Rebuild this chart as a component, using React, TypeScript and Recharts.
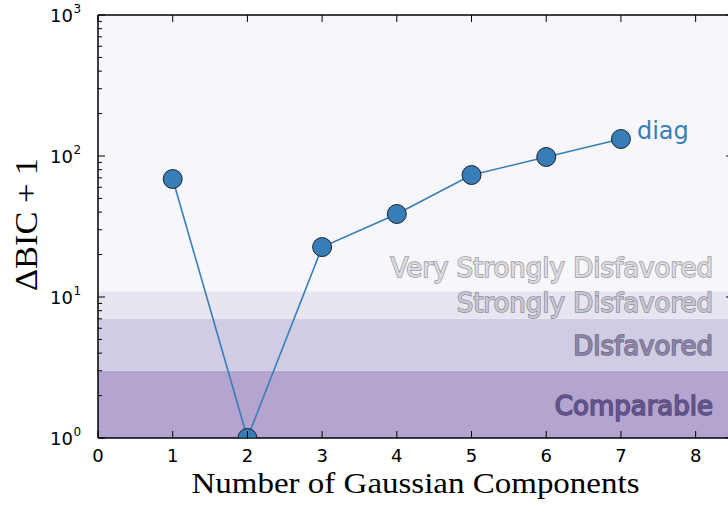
import React from 'react';
import * as Recharts from 'recharts';
import {
  LineChart, Line, XAxis, YAxis, ReferenceArea, ReferenceLine, LabelList,
} from 'recharts';

const components = [1, 2, 3, 4, 5, 6, 7];
const deltaBic = [68.7, 1, 22.6, 38.8, 73.3, 98.4, 132];
const seriesName = 'diag';

const xTicks = [0, 1, 2, 3, 4, 5, 6, 7, 8];
const yMajor = [1, 10, 100, 1000];
const yMinor = [2, 3, 4, 5, 6, 7, 8, 9, 20, 30, 40, 50, 60, 70, 80, 90, 200, 300, 400, 500, 600, 700, 800, 900];
const yExponents = ['0', '1', '2', '3'];
const yDomain = [1, 1000];

const bandEdges = [1, 3, 7, 11, 1000];
const bandNames = ['Comparable', 'Disfavored', 'Strongly Disfavored', 'Very Strongly Disfavored'];
const bandLabelY = [1.69, 4.5, 9.0, 16.0];

const bandFills = ['#b3a5cf', '#cfcce3', '#e7e5f0', '#f7f6fb'];
const bandTextFill = ['#64558a', '#8d86a6', '#c9c7d4', '#dcdce0'];
const bandTextStroke = ['#54477a', '#6e6888', '#8e8c98', '#9a9a9e'];

const data = components.map((c, i) => ({ n: c, v: deltaBic[i] }));
const yTicks = [...yMajor, ...yMinor].sort((a, b) => a - b);

const SANS = 'DejaVu Sans, sans-serif';
const SERIF = 'Liberation Serif, serif';

const LeftYTick = (props: any) => {
  const { x, y, payload } = props;
  const v = payload.value;
  const mi = yMajor.indexOf(v);
  if (mi >= 0) {
    return (
      <g>
        <line x1={x} x2={x + 7} y1={y} y2={y} stroke="#000" strokeWidth={1} />
        <text x={x - 25} y={y + 7} textAnchor="end" fontFamily={SANS} fontSize={18} fill="#000">10</text>
        <text x={x - 24.5} y={y - 2} textAnchor="start" fontFamily={SANS} fontSize={12} fill="#000">{yExponents[mi]}</text>
      </g>
    );
  }
  return <line x1={x} x2={x + 4} y1={y} y2={y} stroke="#000" strokeWidth={1} />;
};

const RightYTick = (props: any) => {
  const { x, y, payload } = props;
  const major = yMajor.includes(payload.value);
  return <line x1={x} x2={x - (major ? 7 : 4)} y1={y} y2={y} stroke="#000" strokeWidth={1} />;
};

const BottomXTick = (props: any) => {
  const { x, y, payload } = props;
  return (
    <g>
      <line x1={x} x2={x} y1={y} y2={y - 7} stroke="#000" strokeWidth={1} />
      <text x={x} y={y + 24} textAnchor="middle" fontFamily={SANS} fontSize={18} fill="#000">{payload.value}</text>
    </g>
  );
};

const TopXTick = (props: any) => {
  const { x, y } = props;
  return <line x1={x} x2={x} y1={y} y2={y + 7} stroke="#000" strokeWidth={1} />;
};

const makeBandLabel = (i: number) => (props: any) => {
  const vb = props.viewBox || {};
  const x = (vb.x ?? 0) + (vb.width ?? 0) - 20;
  const y = vb.y ?? 0;
  return (
    <text
      x={x}
      y={y}
      dy={9}
      textAnchor="end"
      fontFamily={SANS}
      fontSize={26}
      fill={bandTextFill[i]}
      stroke={bandTextStroke[i]}
      strokeWidth={1.5}
      paintOrder="stroke"
    >
      {bandNames[i]}
    </text>
  );
};

const XLabel = (props: any) => {
  const vb = props.viewBox || {};
  return (
    <text
      x={vb.x + vb.width / 2}
      y={vb.y + 55}
      textAnchor="middle"
      fontFamily={SERIF}
      fontSize={30}
      fill="#000"
      textLength={448}
      lengthAdjust="spacingAndGlyphs"
    >
      Number of Gaussian Components
    </text>
  );
};

const YLabel = (props: any) => {
  const vb = props.viewBox || {};
  const cx = 37;
  const cy = vb.y + vb.height / 2 - 2;
  return (
    <text
      x={cx}
      y={cy}
      transform={`rotate(-90 ${cx} ${cy})`}
      textAnchor="middle"
      fontFamily={SERIF}
      fontSize={31}
      fill="#000"
      textLength={133}
      lengthAdjust="spacingAndGlyphs"
    >
      ΔBIC + 1
    </text>
  );
};

const SeriesLabel = (props: any) => {
  const { x, y, index } = props;
  if (index !== components.length - 1) return null;
  return (
    <text x={x + 16} y={y} fontFamily={SANS} fontSize={24} fill="#377eb8">{seriesName}</text>
  );
};

// Dots are clipped at the axis frame (like matplotlib's clip_on): a dot whose
// value sits on the bottom of the y domain only shows its upper half.
const ClippedDot = (props: any) => {
  const { cx, cy, value } = props;
  if (cx == null || cy == null) return null;
  const r = 9.5;
  const style = { fill: '#377eb8', stroke: '#111', strokeWidth: 0.9 };
  const v = Array.isArray(value) ? value[1] : value;
  if (v != null && v <= yDomain[0]) {
    return <path d={`M ${cx - r} ${cy} A ${r} ${r} 0 0 1 ${cx + r} ${cy} Z`} {...style} />;
  }
  return <circle cx={cx} cy={cy} r={r} {...style} />;
};

export default function App() {
  return (
    <div style={{ position: 'absolute', left: 0, top: 0, width: 728, height: 508, overflow: 'hidden', background: '#fff' }}>
      <LineChart width={750} height={508} data={data} margin={{ top: 0, right: 0, bottom: 0, left: 0 }}>
        {bandFills.map((f, i) => (
          <ReferenceArea
            key={`band-${i}`}
            xAxisId="bottom"
            yAxisId="left"
            x1={0}
            x2={8.5}
            y1={bandEdges[i]}
            y2={bandEdges[i + 1]}
            fill={f}
            fillOpacity={1}
            stroke="none"
            ifOverflow="hidden"
          />
        ))}
        {bandNames.map((_, i) => (
          <ReferenceLine
            key={`bl-${i}`}
            xAxisId="bottom"
            yAxisId="left"
            y={bandLabelY[i]}
            stroke="none"
            label={makeBandLabel(i)}
          />
        ))}
        <Line
          xAxisId="bottom"
          yAxisId="left"
          dataKey="v"
          stroke="#377eb8"
          strokeWidth={1.6}
          dot={<ClippedDot />}
          isAnimationActive={false}
        >
          <LabelList dataKey="v" content={<SeriesLabel />} />
        </Line>
        <XAxis
          xAxisId="bottom"
          dataKey="n"
          type="number"
          domain={[0, 8.5]}
          ticks={xTicks}
          interval={0}
          allowDataOverflow
          orientation="bottom"
          height={70}
          tickLine={false}
          tickSize={0}
          tickMargin={0}
          tick={<BottomXTick />}
          axisLine={{ stroke: '#000', strokeWidth: 1.5 }}
          label={<XLabel />}
        />
        <XAxis
          xAxisId="top"
          dataKey="n"
          type="number"
          domain={[0, 8.5]}
          ticks={xTicks}
          interval={0}
          allowDataOverflow
          orientation="top"
          height={15}
          tickLine={false}
          tickSize={0}
          tickMargin={0}
          tick={<TopXTick />}
          axisLine={{ stroke: '#000', strokeWidth: 1.5 }}
        />
        <YAxis
          yAxisId="left"
          scale="log"
          domain={yDomain}
          ticks={yTicks}
          interval={0}
          allowDataOverflow
          width={98}
          tickLine={false}
          tickSize={0}
          tickMargin={0}
          tick={<LeftYTick />}
          axisLine={{ stroke: '#000', strokeWidth: 1.5 }}
          label={<YLabel />}
        />
        <YAxis
          yAxisId="right"
          orientation="right"
          scale="log"
          domain={yDomain}
          ticks={yTicks}
          interval={0}
          allowDataOverflow
          width={17}
          tickLine={false}
          tickSize={0}
          tickMargin={0}
          tick={<RightYTick />}
          axisLine={{ stroke: '#000', strokeWidth: 1.5 }}
        />
      </LineChart>
    </div>
  );
}
